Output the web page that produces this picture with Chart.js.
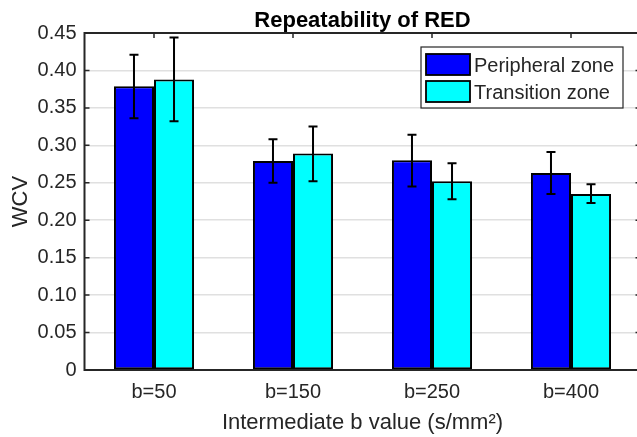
<!DOCTYPE html>
<html>
<head>
<meta charset="utf-8">
<script src="https://cdn.jsdelivr.net/npm/chart.js@4/dist/chart.umd.min.js"></script>
<style>
    html, body { margin: 0; padding: 0; background: #fff; overflow: hidden; }
    #wrap { width: 645px; height: 437px; }
</style>
</head>
<body>
<div id="wrap"><canvas id="wcvChart" width="645" height="437"></canvas></div>
<script>
// ========== DATA ==========
const categories = ["b=50", "b=150", "b=250", "b=400"];
const seriesNames = ["Peripheral zone", "Transition zone"];
const peripheral = [0.379, 0.279, 0.280, 0.263];
const peripheralLow = [0.336, 0.250, 0.245, 0.235];
const peripheralHigh = [0.421, 0.308, 0.314, 0.291];
const transition = [0.388, 0.289, 0.252, 0.235];
const transitionLow = [0.332, 0.252, 0.228, 0.223];
const transitionHigh = [0.444, 0.325, 0.276, 0.248];
const yTicks = [0, 0.05, 0.10, 0.15, 0.20, 0.25, 0.30, 0.35, 0.40, 0.45];

const errLow = [peripheralLow, transitionLow];
const errHigh = [peripheralHigh, transitionHigh];

const FONT = "'Liberation Sans', Arial, Helvetica, sans-serif";
const AXIS_COLOR = "#262626";

// frame + inward tick marks (drawn under the bars, like MATLAB)
const framePlugin = {
    id: "frame",
    beforeDatasetsDraw(chart) {
        const { ctx, chartArea: a, scales } = chart;
        ctx.save();
        ctx.strokeStyle = AXIS_COLOR;
        ctx.lineWidth = 2;
        ctx.strokeRect(a.left, a.top, a.right - a.left, a.bottom - a.top);
        ctx.lineWidth = 1.5;
        yTicks.forEach(v => {
            const y = scales.y.getPixelForValue(v);
            ctx.beginPath();
            ctx.moveTo(a.left, y); ctx.lineTo(a.left + 5, y);
            ctx.moveTo(a.right, y); ctx.lineTo(a.right - 5, y);
            ctx.stroke();
        });
        categories.forEach((c, i) => {
            const x = scales.x.getPixelForValue(i);
            ctx.beginPath();
            ctx.moveTo(x, a.top); ctx.lineTo(x, a.top + 5);
            ctx.moveTo(x, a.bottom); ctx.lineTo(x, a.bottom - 5);
            ctx.stroke();
        });
        ctx.restore();
    }
};

// error bars from the low/high arrays
const errorPlugin = {
    id: "errorBars",
    afterDatasetsDraw(chart) {
        const { ctx, scales } = chart;
        ctx.save();
        ctx.strokeStyle = "#000";
        ctx.lineWidth = 2;
        chart.data.datasets.forEach((ds, d) => {
            chart.getDatasetMeta(d).data.forEach((bar, i) => {
                const yLo = scales.y.getPixelForValue(errLow[d][i]);
                const yHi = scales.y.getPixelForValue(errHigh[d][i]);
                ctx.beginPath();
                ctx.moveTo(bar.x, yLo); ctx.lineTo(bar.x, yHi);
                ctx.moveTo(bar.x - 4.5, yLo); ctx.lineTo(bar.x + 4.5, yLo);
                ctx.moveTo(bar.x - 4.5, yHi); ctx.lineTo(bar.x + 4.5, yHi);
                ctx.stroke();
            });
        });
        ctx.restore();
    }
};

// title and boxed legend
const annotPlugin = {
    id: "annot",
    afterDraw(chart) {
        const { ctx, chartArea: a } = chart;
        ctx.save();
        ctx.fillStyle = "#000";
        ctx.font = "bold 22px " + FONT;
        ctx.textAlign = "center";
        ctx.textBaseline = "alphabetic";
        ctx.fillText("Repeatability of RED", (a.left + a.right) / 2, 27);

        // legend box
        const lx = 421, ly = 47, lw = 202, lh = 61;
        ctx.fillStyle = "#fff";
        ctx.fillRect(lx, ly, lw, lh);
        ctx.strokeStyle = AXIS_COLOR;
        ctx.lineWidth = 1.2;
        ctx.strokeRect(lx, ly, lw, lh);
        ctx.font = "20px " + FONT;
        ctx.textAlign = "left";
        ctx.textBaseline = "alphabetic";
        chart.data.datasets.forEach((ds, d) => {
            const sy = ly + 7 + d * 27;
            ctx.fillStyle = ds.backgroundColor;
            ctx.fillRect(lx + 5, sy, 44, 21);
            ctx.strokeStyle = "#000";
            ctx.lineWidth = 1.8;
            ctx.strokeRect(lx + 5, sy, 44, 21);
            ctx.fillStyle = AXIS_COLOR;
            ctx.fillText(ds.label, lx + 53, sy + 18);
        });
        ctx.restore();
    }
};

const ctx = document.getElementById("wcvChart").getContext("2d");
new Chart(ctx, {
    type: "bar",
    data: {
        labels: categories,
        datasets: [
            {
                label: seriesNames[0],
                data: peripheral,
                backgroundColor: "#0000ff",
                borderColor: "#000",
                borderWidth: 2,
                borderSkipped: false
            },
            {
                label: seriesNames[1],
                data: transition,
                backgroundColor: "#00ffff",
                borderColor: "#000",
                borderWidth: 2,
                borderSkipped: false
            }
        ]
    },
    options: {
        responsive: false,
        animation: false,
        layout: { padding: { top: 33, right: 4.5, left: 0, bottom: 0 } },
        categoryPercentage: 0.576,
        barPercentage: 1.0,
        plugins: {
            legend: { display: false },
            tooltip: { enabled: false }
        },
        scales: {
            x: {
                grid: { display: false, drawTicks: false },
                border: { display: false },
                ticks: { color: AXIS_COLOR, font: { family: FONT, size: 20 }, padding: 10 },
                title: {
                    display: true,
                    text: "Intermediate b value (s/mm²)",
                    color: AXIS_COLOR,
                    font: { family: FONT, size: 22 },
                    padding: { top: 0, bottom: 1 }
                },
                afterFit(scale) { scale.height = 67; }
            },
            y: {
                min: 0,
                max: 0.45,
                afterBuildTicks(scale) { scale.ticks = yTicks.map(v => ({ value: v })); },
                grid: { color: "#e0e0e0", lineWidth: 1.5, drawTicks: false },
                border: { display: false },
                ticks: {
                    color: AXIS_COLOR,
                    font: { family: FONT, size: 20 },
                    padding: 8,
                    callback: v => v === 0 ? "0" : v.toFixed(2)
                },
                title: {
                    display: true,
                    text: "WCV",
                    color: AXIS_COLOR,
                    font: { family: FONT, size: 22 },
                    padding: { top: 8, bottom: 0 }
                },
                afterFit(scale) { scale.width = 84.5; }
            }
        }
    },
    plugins: [framePlugin, errorPlugin, annotPlugin]
});
</script>
</body>
</html>
